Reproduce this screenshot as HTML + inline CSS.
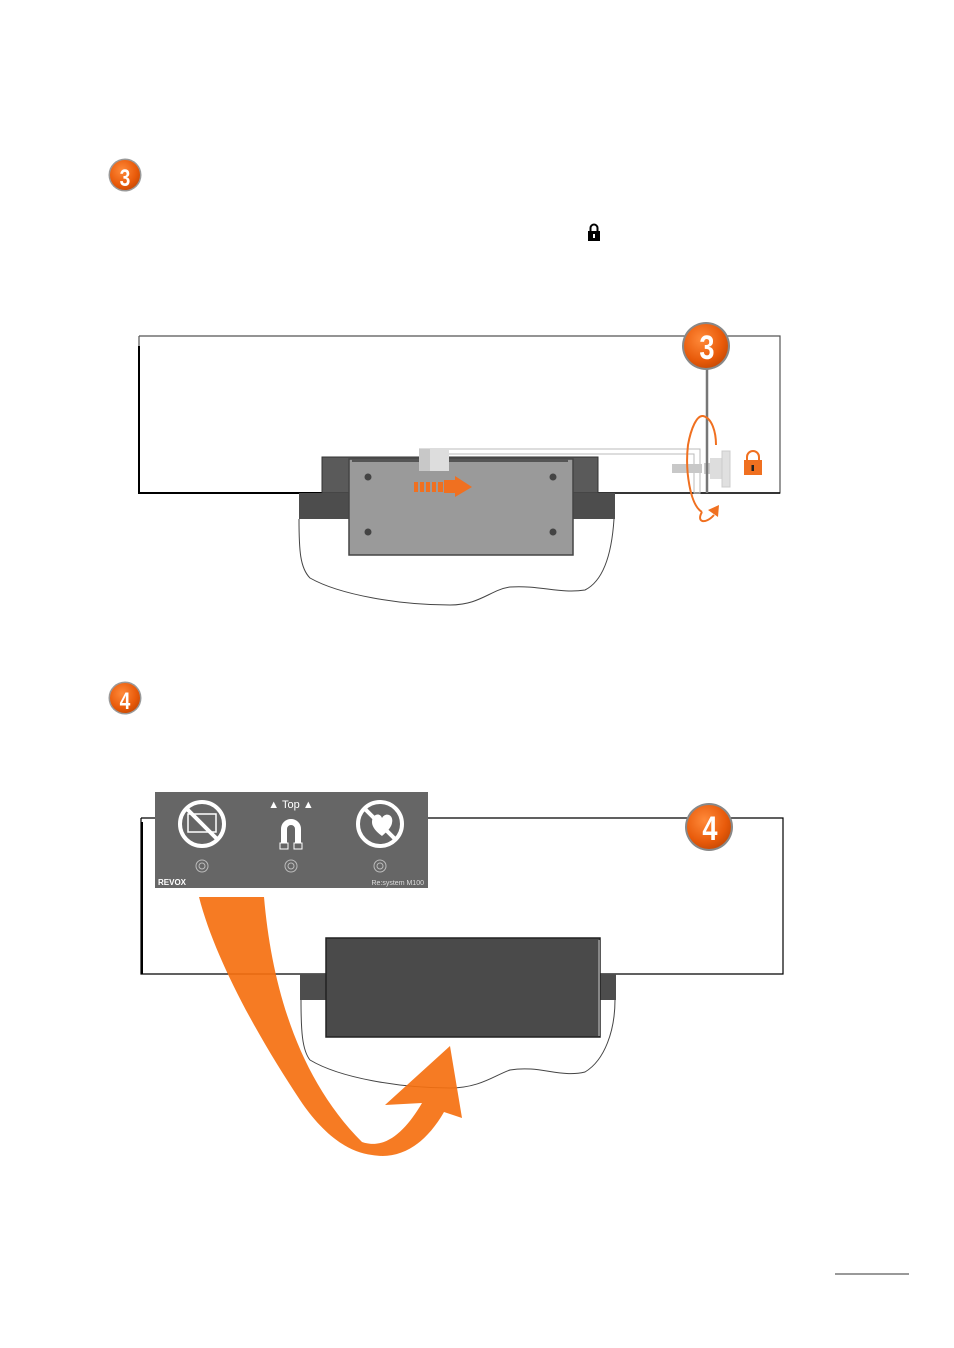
<!DOCTYPE html>
<html><head><meta charset="utf-8"><style>
html,body{margin:0;padding:0;background:#fff;}
svg{display:block;}
</style></head><body>
<svg width="954" height="1348" viewBox="0 0 954 1348" xmlns="http://www.w3.org/2000/svg" font-family="Liberation Sans, sans-serif">
<defs>
<radialGradient id="og" cx="0.4" cy="0.35" r="0.7">
<stop offset="0" stop-color="#ff8a3a"/><stop offset="0.7" stop-color="#e85a0a"/><stop offset="1" stop-color="#c84a05"/>
</radialGradient>
</defs>
<circle cx="125" cy="175" r="16.5" fill="#999"/>
<circle cx="125" cy="175" r="15" fill="url(#og)"/>
<text x="125" y="186" font-size="24" font-weight="bold" fill="#fff" text-anchor="middle" transform="translate(125 0) scale(0.8 1) translate(-125 0)">3</text>
<rect x="588" y="231" width="12" height="10" fill="#000"/>
<path d="M590.5 231v-3a3.5 3.5 0 0 1 7 0v3" fill="none" stroke="#000" stroke-width="2"/>
<rect x="593" y="234" width="2" height="4" fill="#fff"/>

<path d="M139 336H780V493H598M322 493H139V336" fill="none" stroke="#555" stroke-width="1.2"/>
<path d="M139 346V493H322" fill="none" stroke="#000" stroke-width="2"/>
<path d="M598 493H780" fill="none" stroke="#000" stroke-width="1.5"/>
<rect x="322" y="457" width="276" height="36" fill="#5a5a5a" stroke="#333"/>
<rect x="299" y="493" width="51" height="26" fill="#4d4d4d"/>
<rect x="572" y="493" width="43" height="26" fill="#4d4d4d"/>
<path d="M299 519C299 550 300 568 310 578C340 595 400 605 450 605C480 605 490 590 510 587C540 585 560 594 585 590C605 580 612 550 614 519" fill="none" stroke="#444" stroke-width="1"/>
<rect x="349" y="459" width="224" height="96" fill="#9a9a9a" stroke="#444" stroke-width="1.5"/>
<rect x="352" y="459" width="216" height="3" fill="#555"/>
<circle cx="368" cy="477" r="3.5" fill="#444"/><circle cx="553" cy="477" r="3.5" fill="#444"/>
<circle cx="368" cy="532" r="3.5" fill="#444"/><circle cx="553" cy="532" r="3.5" fill="#444"/>
<g fill="#f07020">
<rect x="414" y="482" width="4" height="10"/><rect x="420" y="482" width="4" height="10"/><rect x="426" y="482" width="4" height="10"/><rect x="432" y="482" width="4" height="10"/><rect x="438" y="482" width="5" height="10"/>
<polygon points="444,480 455,480 455,476 472,487 455,497 455,493 444,493"/>
</g>
<path d="M419 449H700V493H694V454H440" fill="none" stroke="#bbb" stroke-width="1"/>
<rect x="419" y="449" width="30" height="22" fill="#ddd"/>
<rect x="419" y="449" width="11" height="22" fill="#c8c8c8"/>
<rect x="672" y="464" width="30" height="9" fill="#c8c8c8"/>
<rect x="704" y="463" width="6" height="11" fill="#ccc"/>
<rect x="710" y="458" width="14" height="21" fill="#ddd"/>
<rect x="722" y="451" width="8" height="36" fill="#e0e0e0" stroke="#ccc"/>
<line x1="707" y1="369" x2="707" y2="493" stroke="#777" stroke-width="2.5"/>
<path d="M702 512C690 505 685 470 688 445C691 428 697 415 703 416C712 418 716 432 716 445" fill="none" stroke="#f07020" stroke-width="2"/>
<path d="M702 512C696 522 705 525 714 515" fill="none" stroke="#f07020" stroke-width="2"/>
<polygon points="708,510 719,505 718,517" fill="#f07020"/>
<path d="M747 461v-4a6 6 0 0 1 12 0v4" fill="none" stroke="#f07020" stroke-width="2"/>
<rect x="744" y="460" width="18" height="15" fill="#f07020"/>
<rect x="751.5" y="465" width="2.5" height="6" fill="#222"/>
<circle cx="706" cy="346" r="24" fill="#888"/>
<circle cx="706" cy="346" r="22" fill="url(#og)"/>
<text x="707" y="359" font-size="34" font-weight="bold" fill="#fff" text-anchor="middle" transform="translate(707 0) scale(0.8 1) translate(-707 0)">3</text>

<circle cx="125" cy="698" r="16.5" fill="#999"/>
<circle cx="125" cy="698" r="15" fill="url(#og)"/>
<text x="125" y="709" font-size="24" font-weight="bold" fill="#fff" text-anchor="middle" transform="translate(125 0) scale(0.8 1) translate(-125 0)">4</text>

<path d="M141 818H783V974H600M326 974H141V818" fill="none" stroke="#000" stroke-width="1.2"/>
<path d="M142 822V974" stroke="#000" stroke-width="2"/>
<rect x="300" y="974" width="26" height="26" fill="#4d4d4d"/>
<rect x="600" y="974" width="16" height="26" fill="#4d4d4d"/>
<path d="M301 1000C301 1030 302 1050 310 1060C340 1078 400 1088 450 1088C480 1088 495 1075 510 1070C540 1065 560 1078 585 1072C605 1060 615 1030 615 1000" fill="none" stroke="#444" stroke-width="1"/>
<rect x="326" y="938" width="274" height="99" fill="#4a4a4a" stroke="#222" stroke-width="1.5"/>
<rect x="598" y="940" width="2" height="96" fill="#888"/>
<circle cx="709" cy="827" r="24" fill="#888"/>
<circle cx="709" cy="827" r="22" fill="url(#og)"/>
<text x="710" y="840" font-size="34" font-weight="bold" fill="#fff" text-anchor="middle" transform="translate(710 0) scale(0.8 1) translate(-710 0)">4</text>
<rect x="155" y="792" width="273" height="96" fill="#666"/>
<g fill="none" stroke="#fff">
<circle cx="202" cy="824" r="22" stroke-width="4"/>
<rect x="188" y="814" width="28" height="18" stroke-width="1.5"/>
<line x1="187" y1="809" x2="217" y2="839" stroke-width="4"/>
<circle cx="380" cy="824" r="22" stroke-width="4"/>
<line x1="365" y1="809" x2="395" y2="839" stroke-width="4"/>
<path d="M284 846V829a7 7 0 0 1 14 0V846" stroke-width="6"/>
<circle cx="202" cy="866" r="6" stroke="#bbb" stroke-width="1"/><circle cx="202" cy="866" r="3" stroke="#bbb"/>
<circle cx="291" cy="866" r="6" stroke="#bbb" stroke-width="1"/><circle cx="291" cy="866" r="3" stroke="#bbb"/>
<circle cx="380" cy="866" r="6" stroke="#bbb" stroke-width="1"/><circle cx="380" cy="866" r="3" stroke="#bbb"/>
</g>
<path d="M372 822c0-8 8-10 10-4c3-6 12-4 10 5c-1 6-8 11-10 13c-4-3-10-8-10-14z" fill="#fff"/>
<rect x="280" y="843" width="8" height="6" fill="#666" stroke="#fff"/>
<rect x="294" y="843" width="8" height="6" fill="#666" stroke="#fff"/>
<text x="291" y="808" font-size="11" fill="#fff" text-anchor="middle">▲ Top ▲</text>
<text x="158" y="885" font-size="8" font-weight="bold" fill="#fff">REVOX</text>
<text x="424" y="885" font-size="7" fill="#ddd" text-anchor="end">Re:system M100</text>
<path d="M199 897L264 897C272 990 300 1080 362 1142C385 1150 405 1132 422 1103L385 1105L450 1046L462 1118L444 1112C425 1145 400 1160 372 1155C345 1152 320 1130 300 1100C260 1040 215 960 199 897Z" fill="#f57010" fill-opacity="0.92"/>

<line x1="835" y1="1274" x2="909" y2="1274" stroke="#333" stroke-width="1"/>
</svg>
</body></html>
